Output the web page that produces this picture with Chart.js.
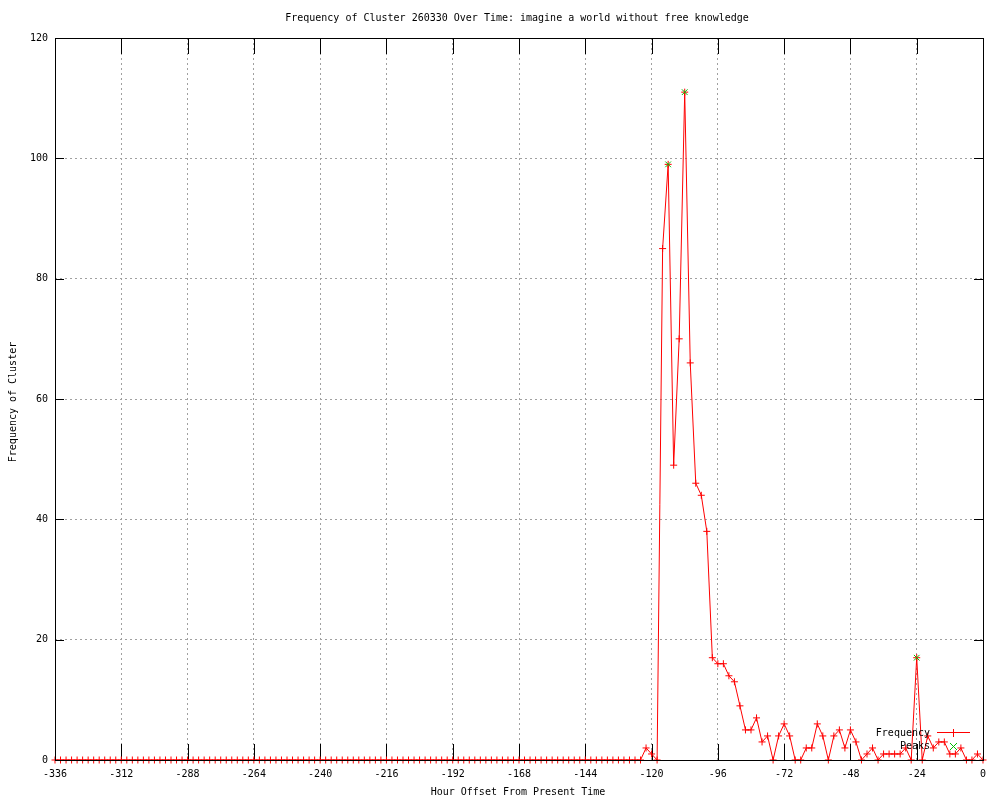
<!DOCTYPE html>
<html>
<head>
<meta charset="utf-8">
<title>Frequency of Cluster 260330</title>
<script src="https://cdn.jsdelivr.net/npm/chart.js@4.4.1/dist/chart.umd.min.js"></script>
<style>
  html, body { margin: 0; padding: 0; background: #fff; }
  canvas { display: block; }
</style>
</head>
<body>
<canvas id="clusterChart" width="1000" height="800"></canvas>
<script>
// Hour offsets (2 hour buckets) and counts
const hours = [
  -336, -334, -332, -330, -328, -326, -324, -322, -320, -318, -316, -314,
  -312, -310, -308, -306, -304, -302, -300, -298, -296, -294, -292, -290,
  -288, -286, -284, -282, -280, -278, -276, -274, -272, -270, -268, -266,
  -264, -262, -260, -258, -256, -254, -252, -250, -248, -246, -244, -242,
  -240, -238, -236, -234, -232, -230, -228, -226, -224, -222, -220, -218,
  -216, -214, -212, -210, -208, -206, -204, -202, -200, -198, -196, -194,
  -192, -190, -188, -186, -184, -182, -180, -178, -176, -174, -172, -170,
  -168, -166, -164, -162, -160, -158, -156, -154, -152, -150, -148, -146,
  -144, -142, -140, -138, -136, -134, -132, -130, -128, -126, -124, -122,
  -120, -118, -116, -114, -112, -110, -108, -106, -104, -102, -100, -98,
  -96, -94, -92, -90, -88, -86, -84, -82, -80, -78, -76, -74,
  -72, -70, -68, -66, -64, -62, -60, -58, -56, -54, -52, -50,
  -48, -46, -44, -42, -40, -38, -36, -34, -32, -30, -28, -26,
  -24, -22, -20, -18, -16, -14, -12, -10, -8, -6, -4, -2,
  0
];

const frequency = [
  0, 0, 0, 0, 0, 0, 0, 0, 0, 0, 0, 0,
  0, 0, 0, 0, 0, 0, 0, 0, 0, 0, 0, 0,
  0, 0, 0, 0, 0, 0, 0, 0, 0, 0, 0, 0,
  0, 0, 0, 0, 0, 0, 0, 0, 0, 0, 0, 0,
  0, 0, 0, 0, 0, 0, 0, 0, 0, 0, 0, 0,
  0, 0, 0, 0, 0, 0, 0, 0, 0, 0, 0, 0,
  0, 0, 0, 0, 0, 0, 0, 0, 0, 0, 0, 0,
  0, 0, 0, 0, 0, 0, 0, 0, 0, 0, 0, 0,
  0, 0, 0, 0, 0, 0, 0, 0, 0, 0, 0, 2,
  1, 0, 85, 99, 49, 70, 111, 66, 46, 44, 38, 17,
  16, 16, 14, 13, 9, 5, 5, 7, 3, 4, 0, 4,
  6, 4, 0, 0, 2, 2, 6, 4, 0, 4, 5, 2,
  5, 3, 0, 1, 2, 0, 1, 1, 1, 1, 2, 0,
  17, 0, 4, 2, 3, 3, 1, 1, 2, 0, 0, 1,
  0
];

const peakHours = [-114, -108, -24];
const peakValues = [99, 111, 17];

const xTickValues = [-336, -312, -288, -264, -240, -216, -192, -168, -144, -120, -96, -72, -48, -24, 0];
const yTickValues = [0, 20, 40, 60, 80, 100, 120];

const FONT = 'DejaVu Sans Mono';
const RED = '#ff0000';
const GREEN = '#00c000';

// gnuplot-like frame: inward ticks, border, titles and the key
const gnuplotFrame = {
  id: 'gnuplotFrame',
  beforeDatasetsDraw(chart) {
    const { ctx, chartArea: a, scales: { x, y } } = chart;
    ctx.save();
    ctx.strokeStyle = '#000';
    ctx.lineWidth = 1;
    ctx.beginPath();
    xTickValues.forEach(v => {
      const px = Math.round(x.getPixelForValue(v)) + 0.5;
      ctx.moveTo(px, a.bottom);
      ctx.lineTo(px, a.bottom - 16);
      ctx.moveTo(px, a.top);
      ctx.lineTo(px, a.top + 16);
    });
    yTickValues.forEach(v => {
      const py = Math.round(y.getPixelForValue(v)) + 0.5;
      ctx.moveTo(a.left, py);
      ctx.lineTo(a.left + 9, py);
      ctx.moveTo(a.right, py);
      ctx.lineTo(a.right - 9, py);
    });
    ctx.stroke();
    ctx.restore();
  },
  afterDatasetsDraw(chart) {
    const { ctx, chartArea: a } = chart;
    ctx.save();
    ctx.strokeStyle = '#000';
    ctx.lineWidth = 1;
    ctx.strokeRect(Math.round(a.left) + 0.5, Math.round(a.top) + 0.5,
      Math.round(a.right - a.left), Math.round(a.bottom - a.top));

    ctx.fillStyle = '#000';
    ctx.font = '10px "' + FONT + '"';
    ctx.textBaseline = 'middle';
    ctx.textAlign = 'center';
    ctx.fillText('Frequency of Cluster 260330 Over Time: imagine a world without free knowledge', 517, 18);
    ctx.fillText('Hour Offset From Present Time', 518, 792);

    ctx.save();
    ctx.translate(13, 402);
    ctx.rotate(-Math.PI / 2);
    ctx.fillText('Frequency of Cluster', 0, 0);
    ctx.restore();

    // key
    ctx.textAlign = 'right';
    ctx.fillText('Frequency', 930, 733);
    ctx.fillText('Peaks', 930, 746);
    ctx.strokeStyle = RED;
    ctx.beginPath();
    ctx.moveTo(937, 732.5);
    ctx.lineTo(970, 732.5);
    ctx.moveTo(953.5, 729);
    ctx.lineTo(953.5, 737);
    ctx.stroke();
    ctx.strokeStyle = GREEN;
    ctx.beginPath();
    ctx.moveTo(950, 743);
    ctx.lineTo(957, 750);
    ctx.moveTo(957, 743);
    ctx.lineTo(950, 750);
    ctx.stroke();
    ctx.restore();
  }
};

const ctx = document.getElementById('clusterChart').getContext('2d');
new Chart(ctx, {
  type: 'line',
  data: {
    datasets: [
      {
        label: 'Peaks',
        data: peakHours.map((h, i) => ({ x: h, y: peakValues[i] })),
        showLine: false,
        pointStyle: 'crossRot',
        pointRadius: 4,
        pointBorderColor: GREEN,
        pointBorderWidth: 1,
        clip: false,
        order: 0
      },
      {
        label: 'Frequency',
        data: hours.map((h, i) => ({ x: h, y: frequency[i] })),
        borderColor: RED,
        borderWidth: 1,
        tension: 0,
        fill: false,
        pointStyle: 'cross',
        pointRadius: 3.5,
        pointBorderColor: RED,
        pointBorderWidth: 1,
        clip: false,
        order: 1
      }
    ]
  },
  options: {
    responsive: false,
    animation: false,
    events: [],
    layout: { padding: { top: 38, right: 17, left: 0, bottom: 0 } },
    plugins: {
      legend: { display: false },
      title: { display: false },
      tooltip: { enabled: false }
    },
    scales: {
      x: {
        type: 'linear',
        min: -336,
        max: 0,
        afterBuildTicks: s => { s.ticks = xTickValues.map(v => ({ value: v })); },
        afterFit: s => { s.height = 40; },
        grid: { color: '#a0a0a0', drawTicks: false },
        border: { display: false, dash: [2, 3] },
        ticks: {
          padding: 8,
          color: '#000',
          autoSkip: false,
          maxRotation: 0,
          font: { family: FONT, size: 10 }
        }
      },
      y: {
        type: 'linear',
        min: 0,
        max: 120,
        afterBuildTicks: s => { s.ticks = yTickValues.map(v => ({ value: v })); },
        afterFit: s => { s.width = 55; },
        grid: { color: '#a0a0a0', drawTicks: false },
        border: { display: false, dash: [2, 3] },
        ticks: {
          padding: 7,
          color: '#000',
          font: { family: FONT, size: 10 }
        }
      }
    }
  },
  plugins: [gnuplotFrame]
});
</script>
</body>
</html>
